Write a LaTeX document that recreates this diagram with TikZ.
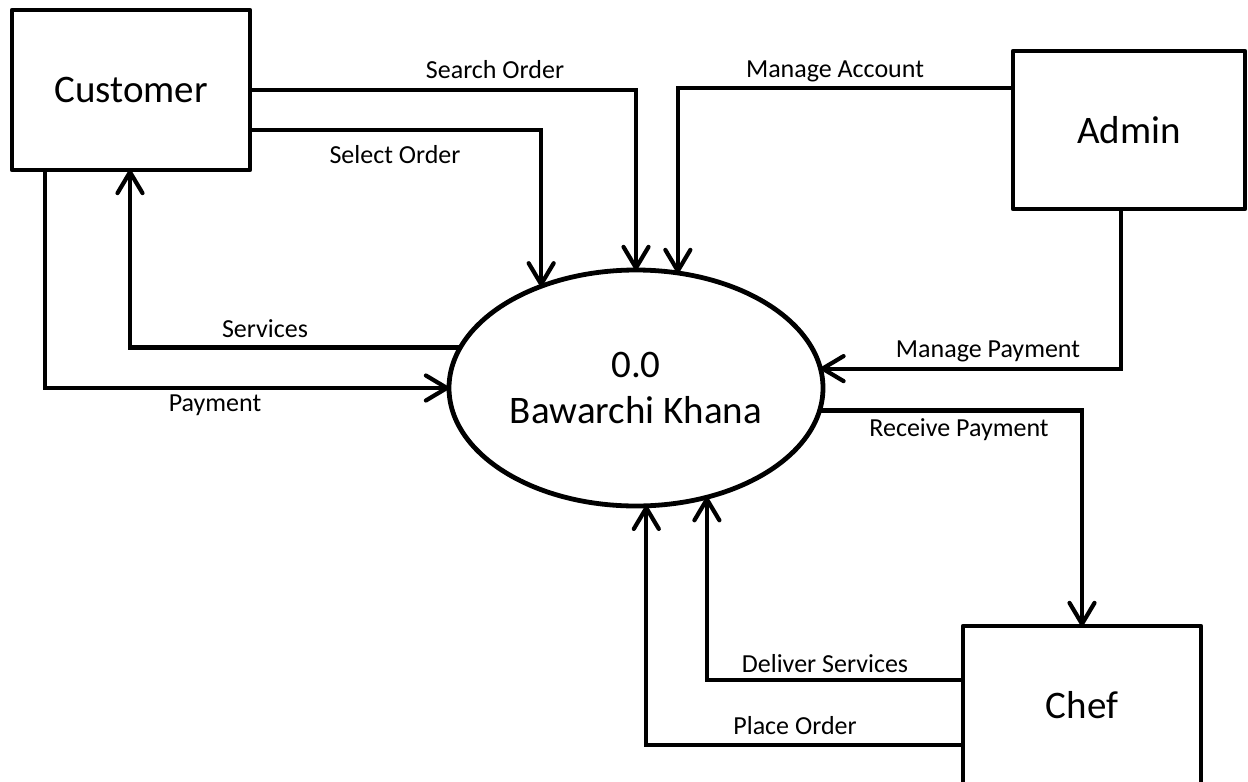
\documentclass[tikz,border=0pt]{standalone}
\usepackage{fontspec}
\setmainfont{Carlito}
\usetikzlibrary{arrows.meta,shapes.geometric}
\begin{document}
\begin{tikzpicture}[x=1pt,y=-1pt,
  entity/.style={draw, rectangle, line width=4.8pt, line join=round,
    inner sep=0pt, outer sep=0pt, font=\fontsize{39}{46}\selectfont},
  process/.style={draw, ellipse, line width=4.8pt, inner sep=0pt, outer sep=0pt,
    minimum width=374pt, minimum height=236pt, align=center,
    font=\fontsize{39}{46}\selectfont},
  flow/.style={line width=4.2pt,
    -{Straight Barb[length=21pt,width=25pt,line cap=round,line join=round]}},
  lbl/.style={font=\fontsize{26}{30}\selectfont, anchor=base, inner sep=0pt}
]
\useasboundingbox (0,0) rectangle (1248,782);

% external entities and the central process
\node[entity, minimum width=238pt, minimum height=160pt] (C) at (131,90) {Customer};
\node[entity, minimum width=232pt, minimum height=158pt] (A) at (1129,130) {Admin};
\node[entity, minimum width=238pt, minimum height=158pt] (H) at (1082,705) {Chef};
\node[process] (E) at (636,388) {0.0\\Bawarchi Khana};

% data flows
\draw[flow] (C.east) -| (E.north);
\draw[flow] (C.east |- 0,130) -| (E.133.1);
\draw[flow] (A.west |- 0,88) -| (E.70.9);
\draw[flow] (E.167.2) -| (C.south -| 130,0);
\draw[flow] (C.south -| 45,0) |- (E.west);
\draw[flow] (A.south -| 1121,0) |- (E.6.2);
\draw[flow] (E.353.8) -| (H.north);
\draw[flow] (H.west |- 0,680) -| (E.303);
\draw[flow] (H.west |- 0,745) -| (E.275.3);

% flow labels
\node[lbl] (tSearch)  at (495,78)  {Search Order};
\node[lbl] (tSelect)  at (395,163) {Select Order};
\node[lbl] (tAcct)    at (835,77)  {Manage Account};
\node[lbl] (tServ)    at (265,337) {Services};
\node[lbl] (tPay)     at (215,411) {Payment};
\node[lbl] (tMPay)    at (988,357) {Manage Payment};
\node[lbl] (tRPay)    at (959,436) {Receive Payment};
\node[lbl] (tDeliver) at (825,672) {Deliver Services};
\node[lbl] (tPlace)   at (795,734) {Place Order};
\end{tikzpicture}
\end{document}
